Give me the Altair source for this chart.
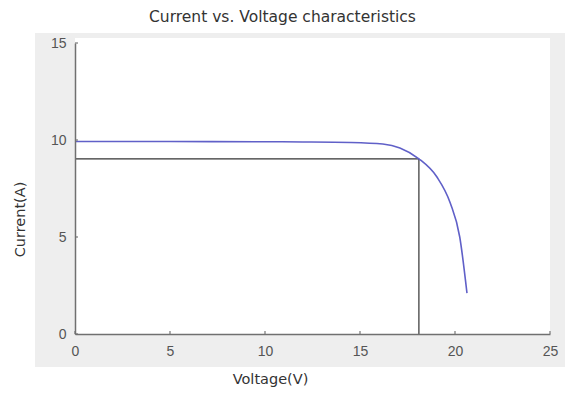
import altair as alt
import pandas as pd

# I-V curve
voltage = [0, 5, 10, 12, 14.5, 16.2, 17.1, 18.1, 19.05, 19.75, 20.25, 20.63]
current = [9.92, 9.92, 9.91, 9.9, 9.87, 9.79, 9.59, 9.03, 8.09, 6.75, 5.0, 2.11]

mpp_v = 18.1
mpp_i = 9.03

x_ticks = [0, 5, 10, 15, 20, 25]
y_ticks = [0, 5, 10, 15]

W, H = 475, 291

curve_df = pd.DataFrame({"V": voltage, "I": current})
hline_df = pd.DataFrame({"V": [0, mpp_v], "I": [mpp_i, mpp_i]})
vline_df = pd.DataFrame({"V": [mpp_v, mpp_v], "I": [0, mpp_i]})
xt_df = pd.DataFrame({"V": x_ticks})
yt_df = pd.DataFrame({"I": y_ticks})

xs = alt.Scale(domain=[0, 25], nice=False)
ys = alt.Scale(domain=[0, 15], nice=False)

xaxis = alt.Axis(values=x_ticks, title="Voltage(V)", tickSize=0, labelPadding=10, zindex=2,
                 labelFlush=False,
                 titleX=195, titleY=45, titleBaseline="middle", titleAlign="center")
yaxis = alt.Axis(values=y_ticks, title="Current(A)", tickSize=0, labelPadding=9, zindex=2,
                 labelFlush=False,
                 titleX=-55, titleY=176, titleAngle=270, titleBaseline="middle")

bg = alt.Chart(pd.DataFrame({"a": [0]})).mark_rect(color="#eeeeee").encode(
    x=alt.value(-40), x2=alt.value(W + 40), y=alt.value(-10), y2=alt.value(H + 33)
)
white = alt.Chart(pd.DataFrame({"a": [0]})).mark_rect(color="white").encode(
    x=alt.value(0), x2=alt.value(W), y=alt.value(-5), y2=alt.value(H)
)

hline = alt.Chart(hline_df).mark_line(color="#333333", strokeWidth=1.2).encode(
    x=alt.X("V:Q", scale=xs, axis=xaxis),
    y=alt.Y("I:Q", scale=ys, axis=yaxis),
)
vline = alt.Chart(vline_df).mark_line(color="#333333", strokeWidth=1.2).encode(
    x=alt.X("V:Q", scale=xs), y=alt.Y("I:Q", scale=ys)
)
curve = alt.Chart(curve_df).mark_line(color="#6060c8", strokeWidth=1.6, interpolate="monotone").encode(
    x=alt.X("V:Q", scale=xs), y=alt.Y("I:Q", scale=ys)
)
xt = alt.Chart(xt_df).mark_rule(color="#777777", strokeWidth=1.2).encode(
    x=alt.X("V:Q", scale=xs), y=alt.value(H), y2=alt.value(H - 3)
)
yt = alt.Chart(yt_df).mark_rule(color="#777777", strokeWidth=1.2).encode(
    y=alt.Y("I:Q", scale=ys), x=alt.value(0), x2=alt.value(3)
)

chart = alt.layer(bg, white, hline, vline, curve, xt, yt).properties(
    width=W, height=H,
    title=alt.TitleParams("Current vs. Voltage characteristics", anchor="middle",
                          dx=-30, offset=8, fontSize=15.5, font="DejaVu Sans",
                          fontWeight="normal", color="#333333"),
    autosize=alt.AutoSizeParams(type="none"),
    padding={"left": 67, "top": 35, "right": 15, "bottom": 59},
).configure_view(stroke=None).configure_axis(
    grid=False, domainColor="#707070", domainWidth=1.5,
    labelFont="Liberation Sans", labelFontSize=14, labelColor="#555555",
    titleFont="DejaVu Sans", titleFontSize=14.5, titleFontWeight="normal", titleColor="#333333",
)

chart.save("out.html", embed_options={"renderer": "svg", "actions": False})
